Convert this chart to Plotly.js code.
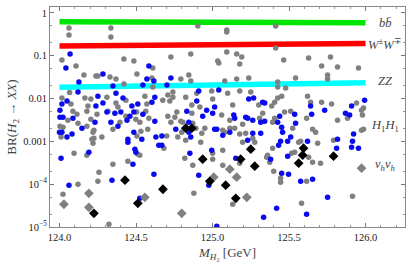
<!DOCTYPE html>
<html><head><meta charset="utf-8">
<script src="https://cdn.plot.ly/plotly-3.0.1.min.js"></script>
<style>html,body{margin:0;padding:0;background:#fff}#c{width:415px;height:268px}</style>
</head><body><div id="c"></div>
<script>
// Bands (start/end of each decay channel)
const bandX = [124.0, 126.0];
const bbY = [0.625, 0.593];
const wwY = [0.169, 0.195];
const zzY = [0.0183, 0.0234];

// Gray circles
const grayX = [124.062,124.062,124.336,124.336,124.016,124.108,124.421,124.486,124.610,124.160,124.238,124.251,124.330,124.369,124.506,124.604,124.421,124.610,124.066,124.016,124.075,124.166,124.205,124.310,124.434,124.558,124.571,124.186,124.369,124.382,124.088,124.179,124.245,124.434,124.564,124.584,124.055,124.114,124.121,124.205,124.395,124.499,124.525,124.317,124.504,124.003,124.010,124.225,124.219,124.212,124.219,124.225,124.277,124.349,124.506,124.532,124.577,124.512,124.525,124.095,124.179,124.447,124.349,124.258,124.251,124.121,124.023,124.323,124.023,124.179,
124.904,125.093,125.093,124.728,124.858,125.034,125.041,125.093,125.158,125.191,125.178,124.793,124.845,124.858,125.080,125.158,125.237,124.675,124.708,124.741,124.741,124.721,124.825,124.897,124.995,125.099,125.178,125.250,125.302,125.132,125.001,124.865,124.917,124.865,124.767,124.708,124.754,124.793,124.871,124.728,125.060,125.113,125.197,125.308,125.328,124.806,
124.799,124.891,124.950,124.825,124.773,124.930,124.923,125.067,125.080,125.113,125.145,125.178,125.217,125.263,125.197,125.276,124.701,124.682,125.001,125.067,124.819,125.001,125.178,124.871,125.067,124.878,125.132,
125.413,125.413,125.465,125.628,125.771,125.713,125.817,125.954,125.543,125.752,125.752,125.426,125.426,125.478,125.452,125.426,125.406,125.387,125.621,125.641,125.713,125.778,125.941,125.987,125.974,125.980,125.882,125.817,125.615,125.511,125.471,125.406,125.393,
125.524,125.654,125.674,125.974,125.987,125.393,125.563,125.576,125.687,125.791,125.537,125.517,125.360,125.354,125.374,125.628,125.654,125.706,125.400,125.445,125.445,125.615,125.915,125.582];
const grayY = [0.446,0.305,0.446,0.275,0.0795,0.0575,0.0839,0.0753,0.0517,0.0354,0.0336,0.0336,0.0318,0.0286,0.0374,0.0301,0.0218,0.0186,0.0138,0.0103,0.00743,0.0103,0.00973,0.0108,0.00921,0.0114,0.00743,0.00667,0.00784,0.00632,0.00509,0.00509,0.00433,0.00389,0.00509,0.00349,0.00314,0.00433,0.00267,0.00331,0.00282,0.00331,0.00282,0.00509,0.00483,0.00227,0.00126,0.00183,0.00164,0.00113,0.000909,0.00119,0.00126,0.00193,0.00133,0.00173,0.00193,0.000502,0.000476,0.000530,0.000476,0.000345,0.000293,0.000190,0.000117,0.0000998,0.0000582,0.0000116,0.00215,0.00227,
0.496,0.40,0.359,0.0935,0.110,0.0753,0.0676,0.122,0.110,0.0935,0.0641,0.0286,0.0354,0.0256,0.0256,0.0286,0.0301,0.00921,0.0121,0.0142,0.0108,0.00873,0.0108,0.0134,0.0150,0.0134,0.0150,0.0142,0.00704,0.00704,0.00973,0.00704,0.00632,0.00457,0.00483,0.00389,0.00369,0.00297,0.00267,0.00282,0.00411,0.00314,0.00253,0.00349,0.00457,0.00282,
0.00164,0.00204,0.00204,0.00107,0.00126,0.00156,0.000959,0.00183,0.00164,0.00204,0.00204,0.00148,0.00156,0.00119,0.000959,0.000959,0.00133,0.000694,0.000530,0.000623,0.000405,0.000384,0.000309,0.000278,0.000278,0.0000614,0.0000340,
0.496,0.152,0.0795,0.0885,0.0935,0.0575,0.0545,0.0517,0.0301,0.0354,0.0286,0.0243,0.0186,0.0176,0.0114,0.0103,0.00827,0.00667,0.0114,0.00827,0.00827,0.00743,0.00784,0.00599,0.00537,0.00411,0.00349,0.00314,0.00349,0.00509,0.00483,0.00349,0.00282,
0.00204,0.00193,0.00164,0.00183,0.00193,0.000694,0.000959,0.00101,0.000909,0.00107,0.000560,0.000530,0.000476,0.000427,0.000327,0.000427,0.000327,0.000309,0.000200,0.000138,0.000111,0.000117,0.0000523,0.0000358];

// Blue circles
const blueX = [124.069,124.042,124.584,124.284,124.571,124.617,124.349,124.545,124.127,124.121,124.049,124.016,124.251,124.369,124.415,124.623,124.604,124.512,124.473,124.238,124.284,124.003,124.310,124.362,124.401,124.460,124.486,124.545,124.623,124.003,124.023,124.088,124.232,124.336,124.441,
124.000,124.016,124.049,124.082,124.147,124.382,124.486,124.538,124.630,124.649,124.447,124.447,124.493,124.499,124.010,124.192,124.480,124.617,124.343,124.062,124.525,
124.728,124.702,124.910,124.897,125.041,125.237,125.269,125.328,125.014,124.832,124.962,124.936,124.845,125.001,125.139,125.145,125.217,125.230,125.263,125.315,
124.760,124.845,124.858,125.014,125.028,125.067,125.113,125.263,125.230,125.315,124.669,124.669,124.995,124.852,125.152,124.910,124.976,125.028,125.334,
125.341,125.641,125.733,125.909,125.994,125.869,125.896,125.648,125.537,125.439,125.341,125.426,125.543,
125.452,125.458,125.922,125.511,125.491,125.445,125.432,125.621,125.817,125.811,125.915,125.909,125.954,125.380,125.491,125.452,125.497,125.576,125.654,125.752,125.419,125.615];
const blueY = [0.110,0.0517,0.0575,0.0374,0.0286,0.0256,0.0196,0.0207,0.0243,0.0142,0.00873,0.00743,0.0114,0.0134,0.0103,0.0108,0.00827,0.00743,0.00667,0.00667,0.00784,0.00537,0.00483,0.00457,0.00483,0.00389,0.00483,0.00433,0.00297,0.00369,0.00369,0.00349,0.00282,0.00282,0.00314,
0.00164,0.00164,0.00126,0.00148,0.00204,0.00227,0.00164,0.00113,0.00126,0.000816,0.00113,0.000959,0.000658,0.000560,0.000405,0.000560,0.000293,0.000171,0.000124,0.0000946,0.0000469,
0.0301,0.0207,0.0150,0.00873,0.0158,0.00973,0.0103,0.00827,0.00632,0.00509,0.00537,0.00389,0.00282,0.00457,0.00411,0.00349,0.00369,0.00349,0.00314,0.00282,
0.00193,0.00164,0.00126,0.00193,0.00193,0.00140,0.00164,0.00156,0.00107,0.00156,0.00133,0.000816,0.000623,0.000530,0.000405,0.000162,0.0000946,0.0000104,0.0000169,
0.00784,0.00667,0.00537,0.00667,0.00921,0.00457,0.00411,0.00433,0.00433,0.00389,0.00297,0.00282,0.00267,
0.00215,0.00164,0.00148,0.00126,0.00101,0.00101,0.000816,0.00101,0.00113,0.000694,0.00101,0.000732,0.000694,0.000384,0.000451,0.000181,0.000171,0.000117,0.000131,0.0000495,0.0000274,0.0000198];

// Black diamonds
const blackX = [124.825,124.865,124.428,124.225,124.512,125.250,124.936,125.184,125.276,124.982,125.086,124.676,125.152,125.595,125.589,125.563,125.791];
const blackY = [0.00204,0.00204,0.000124,0.0000209,0.0000358,0.000658,0.000384,0.000384,0.000263,0.000117,0.0000946,0.0000762,0.0000469,0.000694,0.000476,0.000309,0.000451];

// Gray diamonds
const gdX = [124.192,124.029,124.192,124.558,125.113,125.008,125.158,125.224,124.799,125.974];
const gdY = [0.0000614,0.0000340,0.0000289,0.0000495,0.000224,0.000146,0.000146,0.0000495,0.0000209,0.000236];

// Channel labels
const labels = ['<i>b</i><i>b\u0304</i>','<i>W</i><sup>±</sup><i>W</i><sup>∓</sup>','<i>ZZ</i>','<i>H</i><sub>1</sub><i>H</i><sub>1</sub>','<i>ν</i><sub><i>h</i></sub><i>ν</i><sub><i>h</i></sub>'];
const labelY = [0.585, 0.193, 0.0256, 0.00227, 0.000278];

const yTickVals = [1e-5,1e-4,1e-3,1e-2,1e-1,1];
const yTickText = ['10<sup>−5</sup>','10<sup>−4</sup>','0.001','0.01','0.1','1'];

const serif = 'Liberation Serif, Times New Roman, serif';
function band(y, color){ return {x: bandX, y: y, mode:'lines', line:{color: color, width:5.5}, hoverinfo:'skip'}; }
const traces = [
  band(bbY, '#00e600'), band(wwY, '#ff0000'), band(zzY, '#00ffff'),
  {x: grayX, y: grayY, mode:'markers', marker:{color:'#808080', size:5.5}},
  {x: blueX, y: blueY, mode:'markers', marker:{color:'#0a0af0', size:5.5}},
  {x: gdX, y: gdY, mode:'markers', marker:{color:'#808080', size:7.5, symbol:'diamond'}},
  {x: blackX, y: blackY, mode:'markers', marker:{color:'#000000', size:7.5, symbol:'diamond'}}
];
const ann = labels.map((t,i)=>({x: 126.13, y: Math.log10(labelY[i]), xref:'x', yref:'y', text:t, showarrow:false,
  font:{family:serif, size:12.5, color:'#444'}, xanchor:'center', yanchor:'middle'}));
const layout = {
  width:415, height:268, margin:{l:50, r:10, t:7, b:41},
  paper_bgcolor:'#fff', plot_bgcolor:'#fff', showlegend:false,
  font:{family:serif, size:10, color:'#222'},
  xaxis:{range:[123.938,126.258], tick0:124, dtick:0.5, tickformat:'.1f', ticks:'inside', ticklen:4, tickcolor:'#777',
    showline:true, linecolor:'#888', linewidth:1, mirror:'ticks', showgrid:false, zeroline:false,
    minor:{dtick:0.1, ticks:'inside', ticklen:2, tickcolor:'#999', showgrid:false},
    tickfont:{family:serif, size:10.5, color:'#222'},
    title:{text:'<i>M</i><sub><i>H</i>₂</sub> [GeV]', font:{family:serif, size:13, color:'#444'}, standoff:6}},
  yaxis:{type:'log', range:[-5, 0.14], tickvals:yTickVals, ticktext:yTickText, ticks:'inside', ticklen:4, tickcolor:'#777',
    showline:true, linecolor:'#888', linewidth:1, mirror:'ticks', showgrid:false, zeroline:false,
    minor:{ticks:'inside', ticklen:2, tickcolor:'#999', showgrid:false},
    tickfont:{family:serif, size:10.5, color:'#222'},
    title:{text:'BR(<i>H</i><sub>2</sub> → <i>XX</i>)', font:{family:serif, size:13, color:'#444'}, standoff:3}},
  annotations: ann
};
Plotly.newPlot('c', traces, layout, {staticPlot:true, displayModeBar:false});
</script></body></html>
